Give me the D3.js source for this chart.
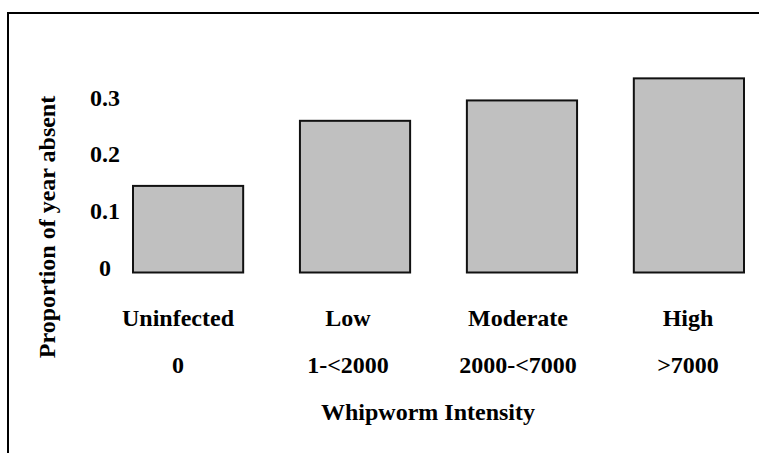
<!DOCTYPE html>
<html>
<head>
<meta charset="utf-8">
<script src="https://cdn.jsdelivr.net/npm/d3@7"></script>
<style>
  html, body { margin: 0; padding: 0; background: #fff; }
  svg { display: block; }
  text { font-family: "Liberation Serif", "Times New Roman", serif; font-weight: bold; font-size: 24px; fill: #000; }
</style>
</head>
<body>
<svg id="chart" width="759" height="453"></svg>
<script>
const categories = ["Uninfected", "Low", "Moderate", "High"];
const ranges = ["0", "1-<2000", "2000-<7000", ">7000"];
const values = [0.153, 0.268, 0.304, 0.343];
const yTicks = [0, 0.1, 0.2, 0.3];
const yTickLabels = ["0", "0.1", "0.2", "0.3"];
const xTitle = "Whipworm Intensity";
const yTitle = "Proportion of year absent";

const svg = d3.select("#chart");

// outer frame (extends beyond right/bottom edge)
svg.append("rect")
  .attr("x", 8).attr("y", 13)
  .attr("width", 800).attr("height", 500)
  .attr("fill", "none").attr("stroke", "#000").attr("stroke-width", 2);

const x = d3.scaleBand().domain(categories).range([133, 744]).paddingInner(0.34).paddingOuter(0);
const xl = d3.scalePoint().domain(categories).range([178, 688]);
const y = d3.scaleLinear().domain([0, 0.35]).range([272.5, 74.4]);

// bars
svg.append("g").selectAll("rect")
  .data(values)
  .join("rect")
  .attr("x", (d, i) => x(categories[i]))
  .attr("y", d => y(d))
  .attr("width", x.bandwidth())
  .attr("height", d => y(0) - y(d))
  .attr("fill", "#c0c0c0")
  .attr("stroke", "#111")
  .attr("stroke-width", 2);

// y tick labels (no axis line)
svg.append("g").selectAll("text")
  .data(yTicks)
  .join("text")
  .attr("x", 105)
  .attr("y", d => y(d) + 3)
  .attr("text-anchor", "middle")
  .text((d, i) => yTickLabels[i]);

// category labels
svg.append("g").selectAll("text")
  .data(categories)
  .join("text")
  .attr("x", d => xl(d))
  .attr("y", 326)
  .attr("text-anchor", "middle")
  .text(d => d);

svg.append("g").selectAll("text")
  .data(ranges)
  .join("text")
  .attr("x", (d, i) => xl(categories[i]))
  .attr("y", 373)
  .attr("text-anchor", "middle")
  .text(d => d);

// axis titles
svg.append("text")
  .attr("x", 428).attr("y", 420)
  .attr("text-anchor", "middle")
  .text(xTitle);

svg.append("text")
  .attr("transform", "translate(55,227) rotate(-90)")
  .attr("text-anchor", "middle")
  .text(yTitle);
</script>
</body>
</html>
